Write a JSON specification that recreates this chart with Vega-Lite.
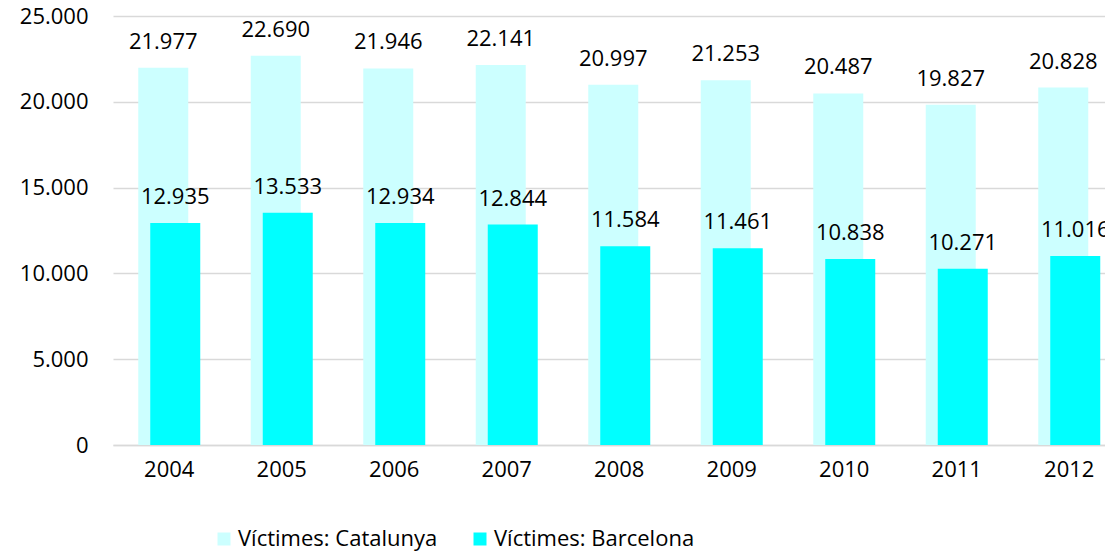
{
  "$schema": "https://vega.github.io/schema/vega-lite/v6.json",
  "autosize": {"type": "none"},
  "width": 992,
  "height": 429,
  "padding": {"left": 113, "top": 16, "right": 0, "bottom": 108},
  "background": "white",
  "config": {
    "view": {"stroke": null},
    "font": "Open Sans",
    "locale": {"number": {"decimal": ",", "thousands": ".", "grouping": [3], "currency": ["", " €"]}}
  },
  "data": {
    "values": [
      {"year": "2004", "serie": "Víctimes: Catalunya", "value": 21977},
      {"year": "2005", "serie": "Víctimes: Catalunya", "value": 22690},
      {"year": "2006", "serie": "Víctimes: Catalunya", "value": 21946},
      {"year": "2007", "serie": "Víctimes: Catalunya", "value": 22141},
      {"year": "2008", "serie": "Víctimes: Catalunya", "value": 20997},
      {"year": "2009", "serie": "Víctimes: Catalunya", "value": 21253},
      {"year": "2010", "serie": "Víctimes: Catalunya", "value": 20487},
      {"year": "2011", "serie": "Víctimes: Catalunya", "value": 19827},
      {"year": "2012", "serie": "Víctimes: Catalunya", "value": 20828},
      {"year": "2004", "serie": "Víctimes: Barcelona", "value": 12935},
      {"year": "2005", "serie": "Víctimes: Barcelona", "value": 13533},
      {"year": "2006", "serie": "Víctimes: Barcelona", "value": 12934},
      {"year": "2007", "serie": "Víctimes: Barcelona", "value": 12844},
      {"year": "2008", "serie": "Víctimes: Barcelona", "value": 11584},
      {"year": "2009", "serie": "Víctimes: Barcelona", "value": 11461},
      {"year": "2010", "serie": "Víctimes: Barcelona", "value": 10838},
      {"year": "2011", "serie": "Víctimes: Barcelona", "value": 10271},
      {"year": "2012", "serie": "Víctimes: Barcelona", "value": 11016}
    ]
  },
  "encoding": {
    "x": {
      "field": "year", "type": "nominal",
      "scale": {"range": [0, 1012.5], "paddingInner": 0, "paddingOuter": 0},
      "axis": {
        "title": null, "labelAngle": 0, "ticks": false,
        "domainColor": "#D9D9D9", "domainWidth": 1.5,
        "labelFontSize": 22, "labelColor": "#000000", "labelPadding": 24,
        "labelBaseline": "middle", "grid": false
      }
    },
    "y": {
      "field": "value", "type": "quantitative",
      "scale": {"domain": [0, 25000], "nice": false},
      "axis": {
        "title": null, "values": [0, 5000, 10000, 15000, 20000, 25000],
        "labelExpr": "format(datum.value, ',')", "domain": false, "ticks": false,
        "gridColor": "#D9D9D9", "gridWidth": 1.5,
        "labelFontSize": 22, "labelColor": "#000000", "labelPadding": 25
      }
    }
  },
  "layer": [
    {
      "transform": [{"filter": "datum.serie === 'Víctimes: Catalunya'"}],
      "mark": {"type": "bar", "width": 50, "xOffset": -6},
      "encoding": {
        "color": {
          "field": "serie", "type": "nominal",
          "scale": {"domain": ["Víctimes: Catalunya", "Víctimes: Barcelona"], "range": ["#CCFFFF", "#00FFFF"]},
          "legend": {
            "title": null, "orient": "none", "direction": "horizontal",
            "legendX": 100, "legendY": 512,
            "symbolType": "square", "symbolSize": 169, "symbolStrokeWidth": 0,
            "symbolOpacity": 1,
            "labelFontSize": 22, "labelColor": "#000000", "labelOffset": 3,
            "columnPadding": 31, "labelLimit": 400
          }
        }
      }
    },
    {
      "transform": [{"filter": "datum.serie === 'Víctimes: Barcelona'"}],
      "mark": {"type": "bar", "width": 50, "xOffset": 6},
      "encoding": {
        "color": {"field": "serie", "type": "nominal"}
      }
    },
    {
      "transform": [{"filter": "datum.serie === 'Víctimes: Catalunya'"}],
      "mark": {"type": "text", "dx": -6, "dy": -19, "baseline": "alphabetic", "fontSize": 22, "color": "#000000"},
      "encoding": {"text": {"field": "value", "type": "quantitative", "format": ","}}
    },
    {
      "transform": [{"filter": "datum.serie === 'Víctimes: Barcelona'"}],
      "mark": {"type": "text", "dx": 6, "dy": -19, "baseline": "alphabetic", "fontSize": 22, "color": "#000000"},
      "encoding": {"text": {"field": "value", "type": "quantitative", "format": ","}}
    }
  ]
}
